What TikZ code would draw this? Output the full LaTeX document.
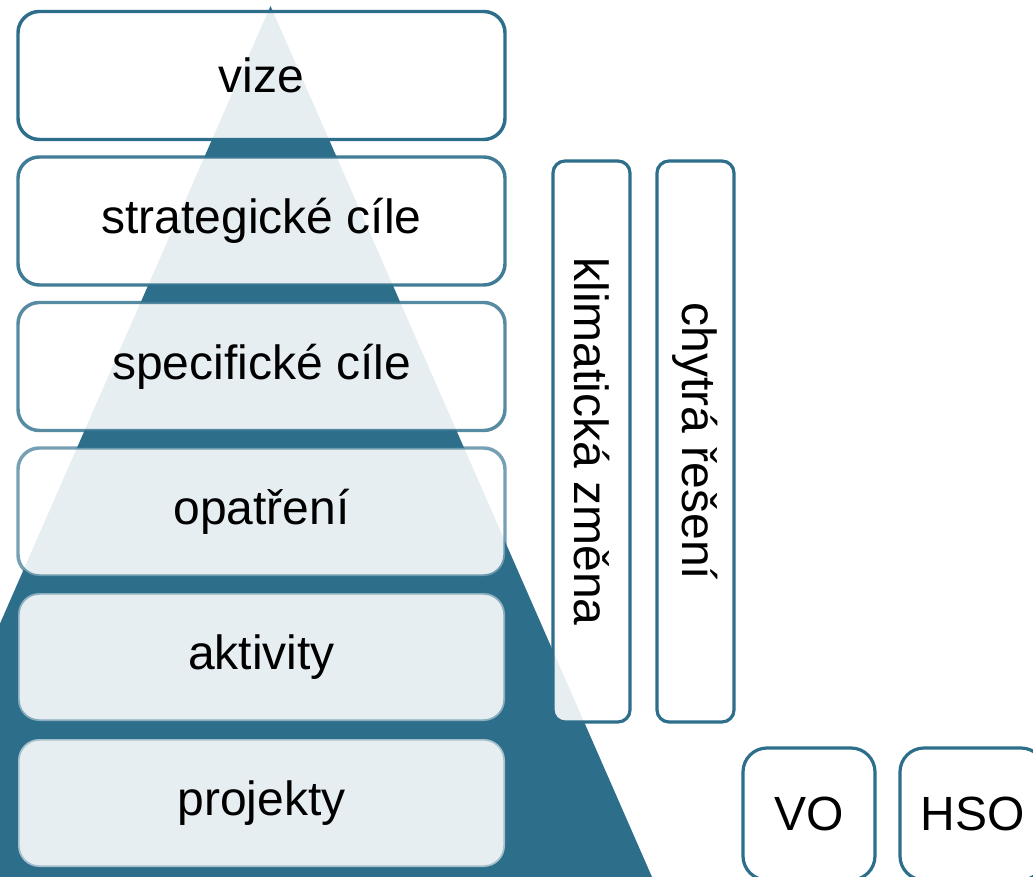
\documentclass[tikz,border=0pt]{standalone}
\usepackage{fontspec}
\setmainfont{Liberation Sans}
\usepackage{graphicx}
\definecolor{teal1}{HTML}{2D6E8B}
\tikzset{
  hbox/.style={draw=teal1, line width=2.6pt, fill=white, fill opacity=0.885, text opacity=1,
    rounded corners=16pt, minimum width=365.25pt, minimum height=96pt, inner sep=0pt,
    font=\fontsize{36}{40}\selectfont},
  vbox/.style={draw=teal1, line width=2.4pt, fill=white, fill opacity=0.885, text opacity=1,
    rounded corners=9pt, minimum width=57.75pt, minimum height=420.75pt, inner sep=0pt,
    font=\fontsize{36}{40}\selectfont},
  sbox/.style={draw=teal1, line width=2.4pt, fill=white, text opacity=1,
    rounded corners=18pt, minimum height=99pt, inner sep=0pt,
    font=\fontsize{36}{40}\selectfont}
}
\begin{document}
\begin{tikzpicture}[x=0.75pt,y=-0.75pt]
\clip (0,0) rectangle (1033,877);
\fill[white] (0,0) rectangle (1033,877);
\fill[teal1] (270.5,6) -- (652,877) -- (-111,877) -- cycle;
\node[hbox, draw opacity=1] (vize) at (261.5,75.5) {vize};
\node[hbox, draw opacity=0.9] (strat) at (261.5,221) {strategické cíle};
\node[hbox, draw opacity=0.8] (spec) at (261.5,366.5) {specifické cíle};
\node[hbox, draw opacity=0.65] (opat) at (261.5,512) {opatření};
\node[hbox, draw opacity=0.5] (akt) at (261.5,657) {aktivity};
\node[hbox, draw opacity=0.35] (proj) at (261.5,803) {projekty};
\node[vbox] (klim) at (591.5,441.5) {\rotatebox{-90}{klimatická změna}};
\node[vbox] (chyt) at (695.5,441.5) {\rotatebox{-90}{chytrá řešení}};
\node[sbox, minimum width=99pt] (vo) at (809,814) {VO};
\node[sbox, minimum width=108.75pt] (hso) at (972.5,814) {HSO};
\end{tikzpicture}
\end{document}
